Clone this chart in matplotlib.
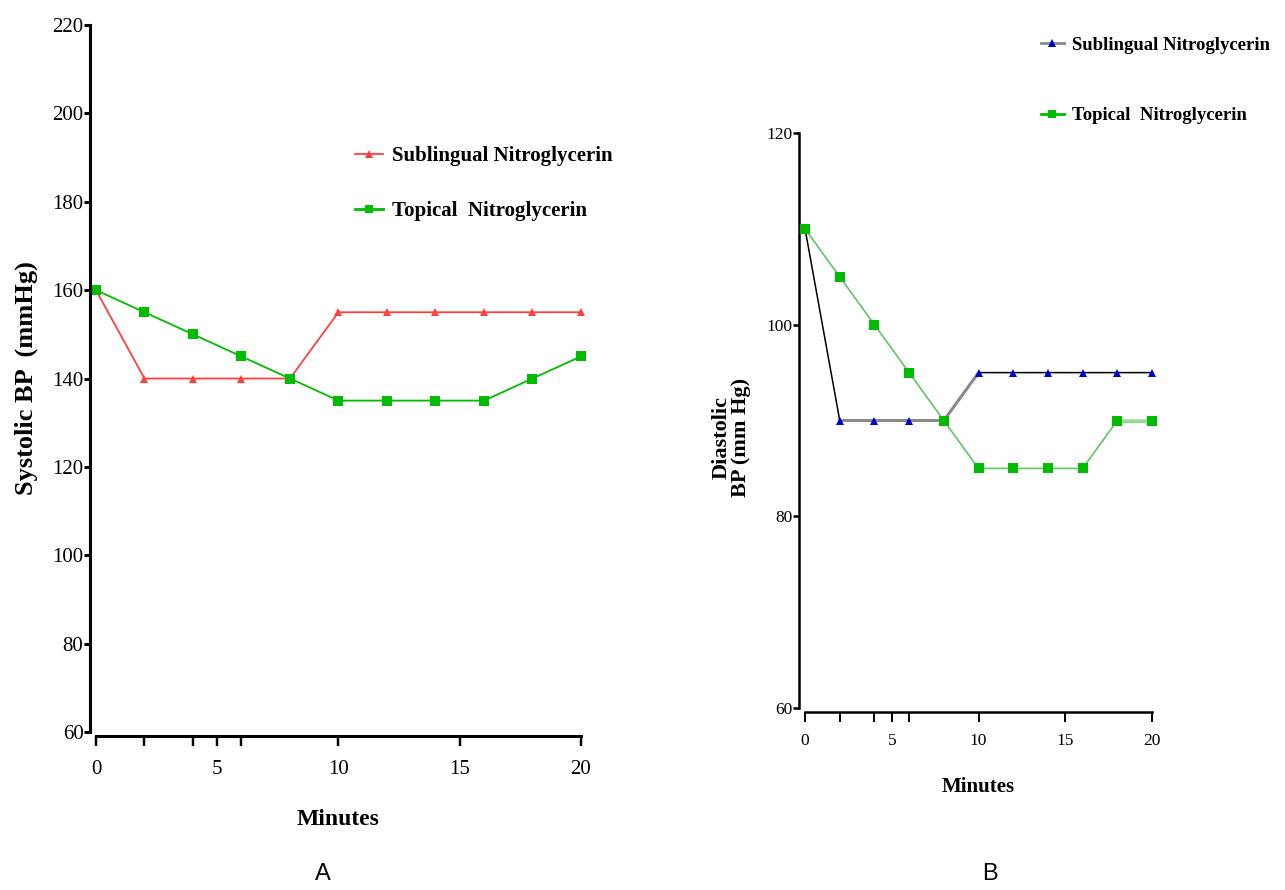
import matplotlib
matplotlib.use("Agg")
import matplotlib.pyplot as plt
from matplotlib.lines import Line2D

minutes = [0, 2, 4, 6, 8, 10, 12, 14, 16, 18, 20]
x_ticks = [0, 2, 4, 5, 6, 10, 15, 20]
x_tick_labels = ["0", "", "", "5", "", "10", "15", "20"]

# systolic (panel A)
sys_sublingual = [160, 140, 140, 140, 140, 155, 155, 155, 155, 155, 155]
sys_topical = [160, 155, 150, 145, 140, 135, 135, 135, 135, 140, 145]
sys_ticks = [60, 80, 100, 120, 140, 160, 180, 200, 220]

# diastolic (panel B)
dia_sublingual = [110, 90, 90, 90, 90, 95, 95, 95, 95, 95, 95]
dia_topical = [110, 105, 100, 95, 90, 85, 85, 85, 85, 90, 90]
dia_ticks = [60, 80, 100, 120]

lbl_sub = "Sublingual Nitroglycerin"
lbl_top = "Topical  Nitroglycerin"

plt.rcParams['font.family'] = ['Liberation Serif', 'DejaVu Serif']

fig = plt.figure(figsize=(12.85, 8.9), dpi=100)


def style_axes(ax, lw, tick_size, xpad):
    for s in ['top', 'right']:
        ax.spines[s].set_visible(False)
    ax.spines['left'].set_position(('outward', 4))
    ax.spines['bottom'].set_position(('outward', 3))
    ax.spines['left'].set_linewidth(lw)
    ax.spines['bottom'].set_linewidth(lw)
    ax.set_xlim(0, 20)
    ax.set_xticks(x_ticks)
    ax.set_xticklabels(x_tick_labels)
    ax.tick_params(axis='x', length=7, width=lw * 0.8, labelsize=tick_size, pad=xpad)
    ax.tick_params(axis='y', length=4, width=lw, labelsize=tick_size, pad=1)


# ---- panel A ----
axA = fig.add_axes([0.0747, 0.1775, 0.3774, 0.7944])
style_axes(axA, 2.2, 15, 10)
axA.set_ylim(60, 220)
axA.set_yticks(sys_ticks)
axA.plot(minutes, sys_sublingual, color='#ff4040', lw=1.3, marker='^',
         markersize=6, markeredgewidth=0, clip_on=False)
axA.plot(minutes, sys_topical, color='#00bb00', lw=1.3, marker='s',
         markersize=7.5, markeredgewidth=0, clip_on=False)
axA.set_xlabel("Minutes", fontsize=17, fontweight='bold', labelpad=22)
axA.set_ylabel("Systolic BP  (mmHg)", fontsize=19, fontweight='bold', labelpad=10)

handlesA = [Line2D([], [], color='#ff4040', lw=1.3, marker='^', markersize=6, markeredgewidth=0),
            Line2D([], [], color='#00bb00', lw=2, marker='s', markersize=6, markeredgewidth=0)]
fig.legend(handlesA, [lbl_sub, lbl_top], loc='upper left',
           bbox_to_anchor=(0.262, 0.857), frameon=False,
           prop={'size': 15, 'weight': 'bold'}, handlelength=1.3,
           handletextpad=0.45, labelspacing=1.7)

# ---- panel B ----
axB = fig.add_axes([0.6265, 0.2045, 0.270, 0.646])
style_axes(axB, 1.8, 12.5, 8)
axB.set_ylim(60, 120)
axB.set_yticks(dia_ticks)
axB.plot(minutes, dia_sublingual, color='black', lw=1.1, zorder=2, clip_on=False)
# grey stretch of the sublingual line
axB.plot(minutes[1:6], dia_sublingual[1:6], color='#8a8a8a', lw=2.2, zorder=2)
axB.plot(minutes, dia_sublingual, color='none', marker='^', markersize=6,
         markerfacecolor='#0000cc', markeredgewidth=0, zorder=4, clip_on=False)
axB.plot(minutes, dia_topical, color='#66c266', lw=1.2, zorder=3, clip_on=False)
axB.plot(minutes[9:], dia_topical[9:], color='#99d699', lw=2.5, zorder=3)
axB.plot(minutes, dia_topical, color='none', marker='s', markersize=7,
         markerfacecolor='#00bb00', markeredgewidth=0, zorder=5, clip_on=False)
axB.set_xlabel("Minutes", fontsize=15, fontweight='bold', labelpad=20)
axB.set_ylabel("Diastolic\nBP (mm Hg)", fontsize=16, fontweight='bold',
               labelpad=12, linespacing=1.0)
axB.yaxis.set_label_coords(-0.155, 0.47)

handlesB = [Line2D([], [], color='#8a8a8a', lw=2, marker='^', markersize=6,
                   markerfacecolor='#0000cc', markeredgewidth=0),
            Line2D([], [], color='#00bb00', lw=2, marker='s', markersize=6, markeredgewidth=0)]
fig.legend(handlesB, [lbl_sub, lbl_top], loc='upper left',
           bbox_to_anchor=(0.797, 0.978), frameon=False,
           prop={'size': 13.5, 'weight': 'bold'}, handlelength=1.2,
           handletextpad=0.45, labelspacing=2.85)

# panel letters
fig.text(323 / 1285, 1 - 880 / 890, "A", fontsize=17, family='Liberation Sans', ha='center', va='baseline')
fig.text(990 / 1285, 1 - 880 / 890, "B", fontsize=17, family='Liberation Sans', ha='center', va='baseline')

fig.savefig("out.png", dpi=100)
